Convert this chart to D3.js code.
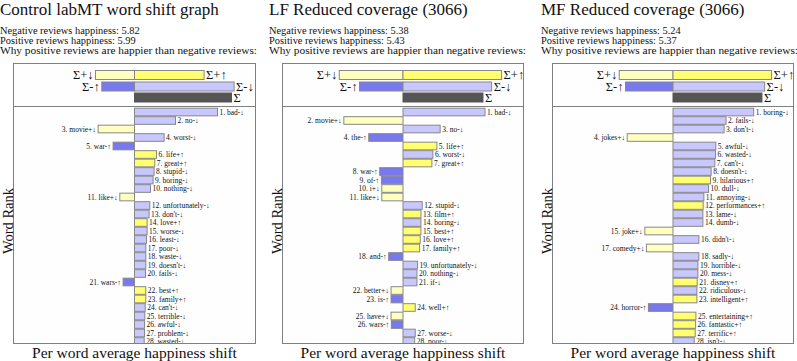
<!DOCTYPE html>
<html><head><meta charset="utf-8">
<script src="https://cdn.jsdelivr.net/npm/d3@7"></script>
<style>body{margin:0;background:#fff}svg{display:block}svg text{font-family:"Liberation Serif",serif}</style>
</head><body><svg id="c" width="797" height="361"></svg>
<script>
const titles = ["Control labMT word shift graph", "LF Reduced coverage (3066)", "MF Reduced coverage (3066)"];
const negHappiness = ["5.82", "5.38", "5.24"];
const posHappiness = ["5.99", "5.43", "5.37"];

// summary: [Σ+↓, Σ+↑, Σ-↑, Σ-↓, Σ]
const summary1 = [-39, 69.6, -32.7, 99.6, 97];
const summary2 = [-64, 99, -43.7, 89, 80.3];
const summary3 = [-54, 99, -47.7, 92, 89.3];

const words1 = ["bad-↓","no-↓","movie+↓","worst-↓","war-↑","life+↑","great+↑","stupid-↓","boring-↓","nothing-↓","like+↓","unfortunately-↓","don't-↓","love+↑","worse-↓","least-↓","poor-↓","waste-↓","doesn't-↓","fails-↓","wars-↑","best+↑","family+↑","can't-↓","terrible-↓","awful-↓","problem-↓","wasted-↓"];
const values1 = [83,41,-36.4,29.6,-21.4,22,20.3,19.6,18.6,16,-14.7,15.3,14.6,12.6,12.6,12,11.3,11.3,11.3,11,-11.4,11.3,11.3,10.7,10.3,10,10,9.7];

const words2 = ["bad-↓","movie+↓","no-↓","the-↑","life+↑","worst-↓","great+↑","war-↑","of-↑","i+↓","like+↓","stupid-↓","film+↑","boring-↓","best+↑","love+↑","family+↑","and-↑","unfortunately-↓","nothing-↓","if-↓","better+↓","is-↑","well+↑","have+↓","wars-↑","worse-↓","poor-↓"];
const values2 = [82.3,-59.4,37.3,-34.4,34,30,29,-23.4,-21.7,-21.3,-21.3,19.3,18,18,18,17.3,16.7,-14.4,14.6,14,14,-12,-12,12.3,-12,-11.7,12.3,11.7];

const words3 = ["boring-↓","fails-↓","don't-↓","jokes+↓","awful-↓","wasted-↓","can't-↓","doesn't-↓","hilarious+↑","dull-↓","annoying-↓","performances+↑","lame-↓","dumb-↓","joke+↓","didn't-↓","comedy+↓","sadly-↓","horrible-↓","mess-↓","disney+↑","ridiculous-↓","intelligent+↑","horror-↑","entertaining+↑","fantastic+↑","terrific+↑","isn't-↓"];
const values3 = [81,53.3,51.3,-46,43,42.7,42,38.3,37.7,35.7,31,30.3,30,30,-28.3,26,-26.7,26,25,25,24.3,24,24,-24.7,23,22.7,22.3,21.3];

const summaryLabels = ["Σ+↓","Σ+↑","Σ-↑","Σ-↓","Σ"];

const panels = [
  {title: titles[0], neg: negHappiness[0], pos: posHappiness[0], summary: summary1, words: words1, values: values1, tx: 0, fl: 13.5, fr: 255.5},
  {title: titles[1], neg: negHappiness[1], pos: posHappiness[1], summary: summary2, words: words2, values: values2, tx: 269, fl: 282.5, fr: 523.5},
  {title: titles[2], neg: negHappiness[2], pos: posHappiness[2], summary: summary3, words: words3, values: values3, tx: 541, fl: 552.5, fr: 793.5}
];

const colors = {"+↓": "#ffffc0", "+↑": "#ffff70", "-↓": "#c8c8ff", "-↑": "#7878f0"};
function typeOf(w){ return w.slice(-2); }

const svg = d3.select("#c");
const boxTop = 63.5, divY = 106.5, boxBot = 343.5;

panels.forEach((p, pi) => {
  const g = svg.append("g");
  const half = 121;
  const x = d3.scaleLinear().domain([-half, half]).range([p.fl, p.fr]);
  g.append("text").attr("x", p.tx).attr("y", 14.5).attr("font-size", 17).attr("fill", "#111").text(p.title);
  const sub = ["Negative reviews happiness: " + p.neg, "Positive reviews happiness: " + p.pos, "Why positive reviews are happier than negative reviews:"];
  g.selectAll("text.sub").data(sub).join("text").attr("class","sub")
    .attr("x", p.tx).attr("y", (d,i) => 34 + i*10).attr("font-size", 10.4)
    .attr("textLength", (d,i) => i === 2 ? 257 : null).attr("lengthAdjust", "spacingAndGlyphs")
    .attr("fill", "#111").text(d => d);

  g.append("rect").attr("x", p.fl).attr("y", boxTop).attr("width", p.fr - p.fl).attr("height", boxBot - boxTop)
    .attr("fill", "#fefefe").attr("stroke", "#808080").attr("stroke-width", 1);
  g.append("line").attr("x1", p.fl).attr("x2", p.fr).attr("y1", divY).attr("y2", divY).attr("stroke", "#808080");

  // summary
  const sy = [70.5, 70.5, 82, 82, 93];
  const sfill = [colors["+↓"], colors["+↑"], colors["-↑"], colors["-↓"], "#555555"];
  const sh = 9;
  const sdata = p.summary.map((v, i) => ({v, i}));
  g.selectAll("rect.sum").data(sdata).join("rect").attr("class","sum")
    .attr("x", d => Math.min(x(0), x(d.v))).attr("width", d => Math.abs(x(d.v) - x(0)))
    .attr("y", d => sy[d.i]).attr("height", sh)
    .attr("fill", d => sfill[d.i]).attr("stroke", d => d.i === 4 ? "#555555" : "#888888").attr("stroke-width", 1);
  g.selectAll("text.suml").data(sdata).join("text").attr("class","suml")
    .attr("x", d => d.v < 0 ? x(d.v) - 2 : x(d.v) + 2)
    .attr("y", d => sy[d.i] + sh/2 + 4).attr("font-size", 12.5).attr("fill", "#111")
    .attr("text-anchor", d => d.v < 0 ? "end" : "start").text(d => summaryLabels[d.i]);

  // main bars
  const clipId = "clip" + pi;
  svg.append("clipPath").attr("id", clipId).append("rect")
    .attr("x", p.fl - 200).attr("y", divY + 0.5).attr("width", p.fr - p.fl + 400).attr("height", boxBot - divY - 1);
  const ranks = p.words.map((w, i) => i + 1);
  const y = d3.scaleBand().domain(ranks).range([107.75, 107.75 + 28 * 8.5]).paddingInner(0.1).paddingOuter(0.05);
  const data = p.words.map((w, i) => ({w, v: p.values[i], r: i + 1}));
  const mg = g.append("g").attr("clip-path", `url(#${clipId})`);
  mg.selectAll("rect.bar").data(data).join("rect").attr("class","bar")
    .attr("x", d => Math.min(x(0), x(d.v))).attr("width", d => Math.abs(x(d.v) - x(0)))
    .attr("y", d => y(d.r)).attr("height", y.bandwidth())
    .attr("fill", d => colors[typeOf(d.w)]).attr("stroke", "#888888").attr("stroke-width", 1);
  mg.selectAll("text.lab").data(data).join("text").attr("class","lab")
    .attr("x", d => d.v < 0 ? x(d.v) - 2 : x(d.v) + 2)
    .attr("y", d => y(d.r) + y.bandwidth()/2 + 2.5).attr("font-size", 7.5).attr("fill", "#111")
    .attr("text-anchor", d => d.v < 0 ? "end" : "start")
    .text(d => d.r + ". " + d.w);

  g.append("text").attr("transform", `translate(${p.fl - 0.5},${(divY + boxBot)/2 - 4}) rotate(-90)`)
    .attr("text-anchor", "middle").attr("font-size", 14.5).attr("fill", "#111").text("Word Rank");
  g.append("text").attr("x", (p.fl + p.fr)/2).attr("y", 357.5).attr("text-anchor", "middle")
    .attr("font-size", 15.5).attr("fill", "#111").text("Per word average happiness shift");
});
</script></body></html>
